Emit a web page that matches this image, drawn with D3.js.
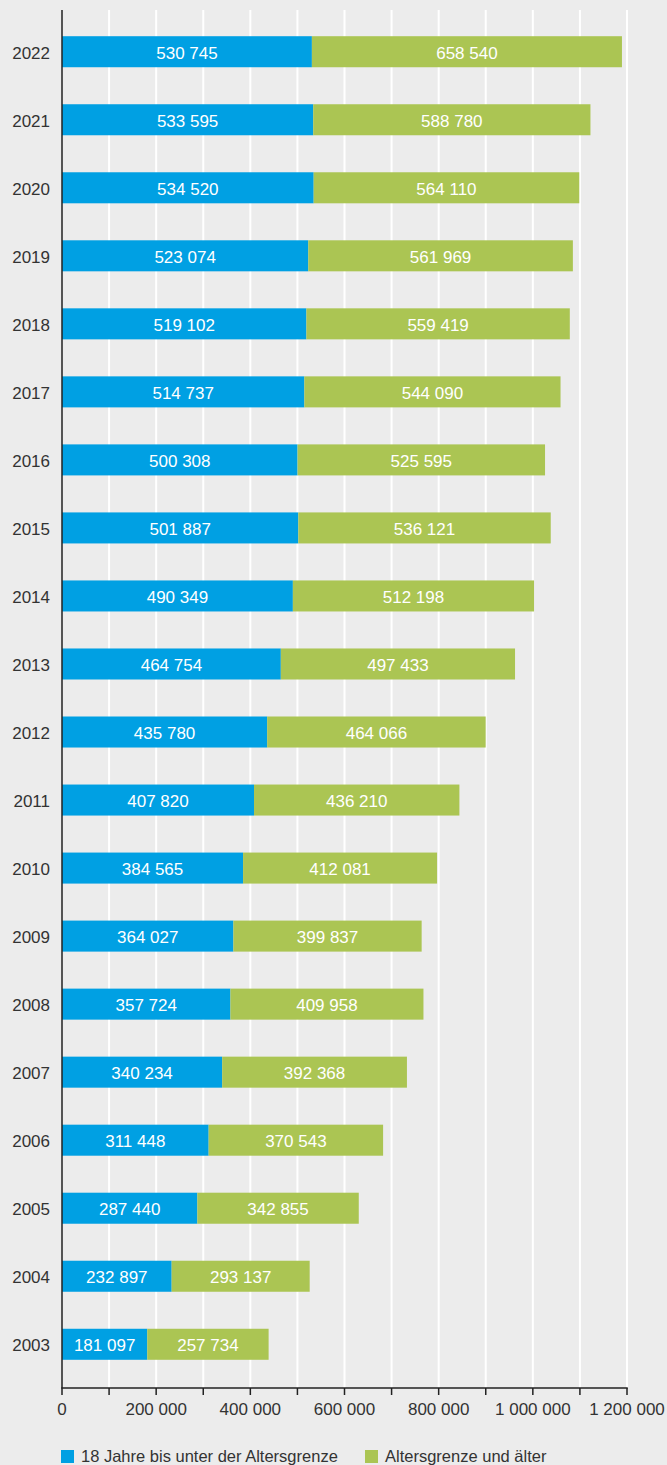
<!DOCTYPE html>
<html><head><meta charset="utf-8">
<script src="https://cdn.jsdelivr.net/npm/d3@7"></script>
<style>
html,body{margin:0;padding:0;background:#ececec;}
svg{display:block;}
text{font-family:"Liberation Sans",Arial,Helvetica,sans-serif;}
</style></head>
<body>
<svg id="c" width="667" height="1465"></svg>
<script>
const years = ["2022","2021","2020","2019","2018","2017","2016","2015","2014","2013","2012","2011","2010","2009","2008","2007","2006","2005","2004","2003"];
const under = [530745,533595,534520,523074,519102,514737,500308,501887,490349,464754,435780,407820,384565,364027,357724,340234,311448,287440,232897,181097];
const over = [658540,588780,564110,561969,559419,544090,525595,536121,512198,497433,464066,436210,412081,399837,409958,392368,370543,342855,293137,257734];
const seriesNames = ["18 Jahre bis unter der Altersgrenze","Altersgrenze und älter"];
const colors = ["#00a0e3","#abc553"];
const gridTicks = [0,100000,200000,300000,400000,500000,600000,700000,800000,900000,1000000,1100000,1200000];
const labelTicks = [0,200000,400000,600000,800000,1000000,1200000];

const svg = d3.select("#c");
const x = d3.scaleLinear().domain([0,1200000]).range([62,627]);
const y = d3.scaleBand().domain(years).range([9,1387]).paddingInner(0.544).paddingOuter(0.4);
const plotTop = 10, axisY = 1388;
const fmt = v => d3.format(",")(v).replace(/,/g," ");

// gridlines
svg.append("g").selectAll("line").data(gridTicks.slice(1)).join("line")
  .attr("x1",d=>x(d)).attr("x2",d=>x(d)).attr("y1",plotTop).attr("y2",axisY)
  .attr("stroke","#ffffff").attr("stroke-width",2);

const rows = years.map((yr,i)=>({yr, a:under[i], b:over[i]}));
const g = svg.append("g");
g.selectAll("rect.a").data(rows).join("rect").attr("class","a")
  .attr("x",x(0)).attr("y",d=>y(d.yr)).attr("width",d=>x(d.a)-x(0)).attr("height",y.bandwidth())
  .attr("fill",colors[0]);
g.selectAll("rect.b").data(rows).join("rect").attr("class","b")
  .attr("x",d=>x(d.a)).attr("y",d=>y(d.yr)).attr("width",d=>x(d.a+d.b)-x(d.a)).attr("height",y.bandwidth())
  .attr("fill",colors[1]);
g.selectAll("text.la").data(rows).join("text").attr("class","la")
  .attr("x",d=>(x(0)+x(d.a))/2).attr("y",d=>y(d.yr)+y.bandwidth()/2+7)
  .attr("text-anchor","middle").attr("fill","#fff").attr("font-size",17).text(d=>fmt(d.a));
g.selectAll("text.lb").data(rows).join("text").attr("class","lb")
  .attr("x",d=>(x(d.a)+x(d.a+d.b))/2).attr("y",d=>y(d.yr)+y.bandwidth()/2+7)
  .attr("text-anchor","middle").attr("fill","#fff").attr("font-size",17).text(d=>fmt(d.b));
// year labels
g.selectAll("text.yr").data(years).join("text").attr("class","yr")
  .attr("x",50).attr("y",d=>y(d)+y.bandwidth()/2+7)
  .attr("text-anchor","end").attr("fill","#333").attr("font-size",17).text(d=>d);

// axes lines
svg.append("line").attr("x1",x(0)).attr("x2",x(0)).attr("y1",plotTop).attr("y2",axisY)
  .attr("stroke","#222").attr("stroke-width",1.5);
svg.append("line").attr("x1",x(0)-0.75).attr("x2",x(1200000)+0.75).attr("y1",axisY).attr("y2",axisY)
  .attr("stroke","#222").attr("stroke-width",1.5);
svg.append("g").selectAll("line").data(gridTicks).join("line")
  .attr("x1",d=>x(d)).attr("x2",d=>x(d)).attr("y1",axisY).attr("y2",axisY+7)
  .attr("stroke","#222").attr("stroke-width",1.5);
svg.append("g").selectAll("text").data(labelTicks).join("text")
  .attr("x",d=>x(d)).attr("y",1415).attr("text-anchor","middle")
  .attr("fill","#333").attr("font-size",17)
  .text(d=>fmt(d));

// legend
const leg = svg.append("g");
const legX = [61,365];
seriesNames.forEach((n,i)=>{
  leg.append("rect").attr("x",legX[i]).attr("y",1450).attr("width",13).attr("height",13).attr("fill",colors[i]);
  leg.append("text").attr("x",legX[i]+20).attr("y",1462).attr("font-size",16.5).attr("fill","#333")
    .text(n);
});
</script>
</body></html>
